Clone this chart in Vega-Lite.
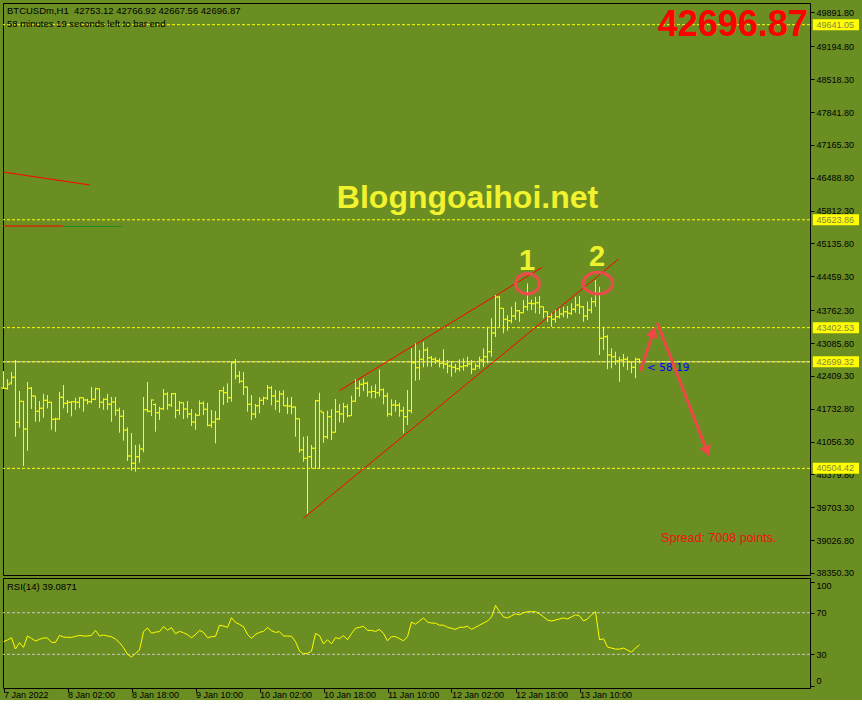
{
"$schema":"https://vega.github.io/schema/vega-lite/v6.json",
"background":"#6B8E23",
"padding":{"left":0,"top":2,"right":2,"bottom":0},
"spacing":3,
"bounds":"flush",
"config":{"view":{"stroke":"#000000","strokeWidth":1},"axis":{"labelFont":"Liberation Sans","labelFontSize":9,"labelColor":"#000000","tickColor":"#000000","tickSize":4,"domain":false,"grid":false},"text":{"font":"Liberation Sans"}},
"datasets":{
"bars":[
{"i":0,"o":42159,"h":42509,"l":42139,"c":42153},{"i":1,"o":42150,"h":42344,"l":42124,"c":42235},{"i":2,"o":42260,"h":42489,"l":42230,"c":42379},{"i":3,"o":42379,"h":42736,"l":41156,"c":41453},{"i":4,"o":41453,"h":42097,"l":41342,"c":41885},{"i":5,"o":41885,"h":41895,"l":40553,"c":41315},{"i":6,"o":41315,"h":42283,"l":40868,"c":42153},{"i":7,"o":42153,"h":42180,"l":41727,"c":41994},{"i":8,"o":41994,"h":42000,"l":41465,"c":41679},{"i":9,"o":41679,"h":41891,"l":41465,"c":41741},
{"i":10,"o":41741,"h":42042,"l":41548,"c":41906},{"i":11,"o":41906,"h":42015,"l":41741,"c":41865},{"i":12,"o":41865,"h":41877,"l":41300,"c":41515},{"i":13,"o":41515,"h":41548,"l":41259,"c":41520},{"i":14,"o":41520,"h":42077,"l":41505,"c":41968},{"i":15,"o":41968,"h":42221,"l":41741,"c":41844},{"i":16,"o":41844,"h":41912,"l":41644,"c":41865},{"i":17,"o":41865,"h":41891,"l":41576,"c":41877},{"i":18,"o":41877,"h":41959,"l":41706,"c":41865},{"i":19,"o":41865,"h":41974,"l":41741,"c":41959},
{"i":20,"o":41959,"h":41968,"l":41671,"c":41912},{"i":21,"o":41912,"h":41939,"l":41823,"c":41877},{"i":22,"o":41877,"h":42180,"l":41844,"c":41926},{"i":23,"o":41926,"h":42165,"l":41910,"c":42145},{"i":24,"o":42145,"h":42153,"l":41747,"c":41865},{"i":25,"o":41865,"h":41947,"l":41712,"c":41926},{"i":26,"o":41926,"h":42036,"l":41712,"c":41823},{"i":27,"o":41823,"h":41974,"l":41465,"c":41871},{"i":28,"o":41871,"h":41974,"l":41589,"c":41700},{"i":29,"o":41700,"h":41753,"l":41239,"c":41576},
{"i":30,"o":41576,"h":41706,"l":41074,"c":41294},{"i":31,"o":41294,"h":41350,"l":40656,"c":40759},{"i":32,"o":40759,"h":41232,"l":40456,"c":40609},{"i":33,"o":40609,"h":40985,"l":40436,"c":40745},{"i":34,"o":40745,"h":41000,"l":40621,"c":40903},{"i":35,"o":40903,"h":41974,"l":40835,"c":41712},{"i":36,"o":41712,"h":42283,"l":41659,"c":41679},{"i":37,"o":41679,"h":41926,"l":41583,"c":41912},{"i":38,"o":41820,"h":41840,"l":41259,"c":41651},{"i":39,"o":41651,"h":41774,"l":41500,"c":41733},
{"i":40,"o":41733,"h":42138,"l":41706,"c":42036},{"i":41,"o":42036,"h":42071,"l":41712,"c":41809},{"i":42,"o":41809,"h":42056,"l":41768,"c":42042},{"i":43,"o":42042,"h":42056,"l":41535,"c":41700},{"i":44,"o":41700,"h":41891,"l":41603,"c":41856},{"i":45,"o":41856,"h":41865,"l":41521,"c":41727},{"i":46,"o":41727,"h":41891,"l":41535,"c":41624},{"i":47,"o":41624,"h":41727,"l":41377,"c":41459},{"i":48,"o":41459,"h":41644,"l":41300,"c":41597},{"i":49,"o":41597,"h":41906,"l":41590,"c":41844},
{"i":50,"o":41844,"h":41885,"l":41603,"c":41721},{"i":51,"o":41721,"h":41856,"l":41370,"c":41391},{"i":52,"o":41391,"h":41706,"l":41342,"c":41459},{"i":53,"o":41459,"h":41686,"l":41020,"c":41521},{"i":54,"o":41521,"h":42118,"l":41500,"c":42103},{"i":55,"o":42103,"h":42186,"l":41809,"c":42062},{"i":56,"o":42062,"h":42256,"l":41856,"c":41959},{"i":57,"o":41959,"h":42701,"l":41877,"c":42680},{"i":58,"o":42680,"h":42756,"l":42338,"c":42406},{"i":59,"o":42406,"h":42509,"l":42256,"c":42297},
{"i":60,"o":42297,"h":42489,"l":42015,"c":42180},{"i":61,"o":42180,"h":42190,"l":41671,"c":41823},{"i":62,"o":41823,"h":42015,"l":41500,"c":41624},{"i":63,"o":41624,"h":41830,"l":41541,"c":41795},{"i":64,"o":41795,"h":41968,"l":41638,"c":41906},{"i":65,"o":41906,"h":41980,"l":41809,"c":41953},{"i":66,"o":41953,"h":42221,"l":41912,"c":42165},{"i":67,"o":42165,"h":42200,"l":41803,"c":41994},{"i":68,"o":41994,"h":42118,"l":41706,"c":41885},{"i":69,"o":41885,"h":42103,"l":41651,"c":42036},
{"i":70,"o":42036,"h":42112,"l":41788,"c":41795},{"i":71,"o":41795,"h":41968,"l":41624,"c":41788},{"i":72,"o":41788,"h":41974,"l":41618,"c":41768},{"i":73,"o":41768,"h":41780,"l":41156,"c":41527},{"i":74,"o":41527,"h":41535,"l":40827,"c":40882},{"i":75,"o":40882,"h":41156,"l":40642,"c":40712},{"i":76,"o":40712,"h":41171,"l":39565,"c":40745},{"i":77,"o":40745,"h":40985,"l":40506,"c":40917},{"i":78,"o":40917,"h":41912,"l":40491,"c":41898},{"i":79,"o":41898,"h":42062,"l":40491,"c":41686},
{"i":80,"o":41660,"h":41671,"l":41033,"c":41156},{"i":81,"o":41156,"h":41692,"l":41109,"c":41568},{"i":82,"o":41568,"h":41727,"l":41088,"c":41247},{"i":83,"o":41247,"h":41933,"l":41240,"c":41671},{"i":84,"o":41671,"h":41830,"l":41453,"c":41624},{"i":85,"o":41624,"h":41856,"l":41445,"c":41774},{"i":86,"o":41774,"h":41823,"l":41556,"c":41589},{"i":87,"o":41589,"h":42001,"l":41580,"c":41885},{"i":88,"o":41885,"h":42344,"l":41875,"c":42153},{"i":89,"o":42153,"h":42309,"l":41980,"c":42235},
{"i":90,"o":42235,"h":42351,"l":42097,"c":42256},{"i":91,"o":42256,"h":42289,"l":41980,"c":42077},{"i":92,"o":42077,"h":42206,"l":41947,"c":42085},{"i":93,"o":42085,"h":42235,"l":41947,"c":42062},{"i":94,"o":42062,"h":42544,"l":41980,"c":42124},{"i":95,"o":42124,"h":42153,"l":41823,"c":41994},{"i":96,"o":41994,"h":42062,"l":41568,"c":41624},{"i":97,"o":41624,"h":41926,"l":41583,"c":41809},{"i":98,"o":41809,"h":41912,"l":41671,"c":41803},{"i":99,"o":41803,"h":41856,"l":41568,"c":41692},
{"i":100,"o":41692,"h":41774,"l":41226,"c":41568},{"i":101,"o":41568,"h":42118,"l":41397,"c":41692},{"i":102,"o":41692,"h":42977,"l":41638,"c":42680},{"i":103,"o":42680,"h":43080,"l":42309,"c":42577},{"i":104,"o":42577,"h":42942,"l":42324,"c":42750},{"i":105,"o":42750,"h":43106,"l":42585,"c":42942},{"i":106,"o":42942,"h":42997,"l":42598,"c":42783},{"i":107,"o":42783,"h":42818,"l":42598,"c":42750},{"i":108,"o":42750,"h":42791,"l":42653,"c":42721},{"i":109,"o":42721,"h":42771,"l":42585,"c":42668},
{"i":110,"o":42668,"h":42956,"l":42556,"c":42653},{"i":111,"o":42653,"h":42736,"l":42462,"c":42612},{"i":112,"o":42612,"h":42715,"l":42392,"c":42585},{"i":113,"o":42585,"h":42653,"l":42474,"c":42556},{"i":114,"o":42556,"h":42750,"l":42503,"c":42598},{"i":115,"o":42598,"h":42771,"l":42515,"c":42618},{"i":116,"o":42618,"h":42804,"l":42590,"c":42653},{"i":117,"o":42653,"h":42736,"l":42447,"c":42544},{"i":118,"o":42544,"h":42668,"l":42530,"c":42612},{"i":119,"o":42612,"h":42804,"l":42556,"c":42736},
{"i":120,"o":42736,"h":42977,"l":42598,"c":42804},{"i":121,"o":42804,"h":43421,"l":42668,"c":42907},{"i":122,"o":42907,"h":43594,"l":42804,"c":43292},{"i":123,"o":43292,"h":44074,"l":43209,"c":44033},{"i":124,"o":44033,"h":44053,"l":43409,"c":43800},{"i":125,"o":43800,"h":43806,"l":43286,"c":43574},{"i":126,"o":43574,"h":43662,"l":43339,"c":43545},{"i":127,"o":43545,"h":43833,"l":43491,"c":43642},{"i":128,"o":43642,"h":43936,"l":43559,"c":43751},{"i":129,"o":43751,"h":43765,"l":43524,"c":43710},
{"i":130,"o":43710,"h":43971,"l":43697,"c":43833},{"i":131,"o":43833,"h":44315,"l":43751,"c":43903},{"i":132,"o":43903,"h":43985,"l":43765,"c":43895},{"i":133,"o":43895,"h":44039,"l":43697,"c":43915},{"i":134,"o":43915,"h":44053,"l":43683,"c":43833},{"i":135,"o":43833,"h":43840,"l":43594,"c":43730},{"i":136,"o":43730,"h":43740,"l":43518,"c":43627},{"i":137,"o":43627,"h":43697,"l":43421,"c":43574},{"i":138,"o":43574,"h":43765,"l":43504,"c":43627},{"i":139,"o":43627,"h":43800,"l":43594,"c":43683},
{"i":140,"o":43683,"h":43833,"l":43615,"c":43730},{"i":141,"o":43730,"h":43847,"l":43594,"c":43697},{"i":142,"o":43697,"h":43903,"l":43662,"c":43780},{"i":143,"o":43780,"h":44039,"l":43710,"c":43868},{"i":144,"o":43868,"h":44053,"l":43683,"c":43833},{"i":145,"o":43833,"h":43845,"l":43524,"c":43642},{"i":146,"o":43642,"h":43936,"l":43559,"c":43765},{"i":147,"o":43765,"h":44026,"l":43697,"c":43936},{"i":148,"o":43936,"h":44383,"l":43833,"c":44109},{"i":149,"o":44109,"h":44245,"l":42839,"c":43182},
{"i":150,"o":43182,"h":43421,"l":42942,"c":43215},{"i":151,"o":43215,"h":43250,"l":42544,"c":42839},{"i":152,"o":42839,"h":42977,"l":42565,"c":42804},{"i":153,"o":42804,"h":42907,"l":42633,"c":42715},{"i":154,"o":42715,"h":42804,"l":42289,"c":42736},{"i":155,"o":42736,"h":42859,"l":42598,"c":42750},{"i":156,"o":42750,"h":42804,"l":42530,"c":42701},{"i":157,"o":42701,"h":42710,"l":42462,"c":42585},{"i":158,"o":42585,"h":42783,"l":42359,"c":42753},{"i":159,"o":42753.12,"h":42766.92,"l":42667.56,"c":42696.87}
],
"rsi":[
{"i":0,"v":42.2},{"i":1,"v":43.8},{"i":2,"v":46.0},{"i":3,"v":35.1},{"i":4,"v":41.2},{"i":5,"v":36.7},{"i":6,"v":47.6},{"i":7,"v":45.3},{"i":8,"v":42.8},{"i":9,"v":44.4},
{"i":10,"v":45.7},{"i":11,"v":45.7},{"i":12,"v":41.5},{"i":13,"v":41.5},{"i":14,"v":48.2},{"i":15,"v":46.6},{"i":16,"v":46.3},{"i":17,"v":46.3},{"i":18,"v":47.3},{"i":19,"v":48.2},
{"i":20,"v":47.6},{"i":21,"v":47.6},{"i":22,"v":48.2},{"i":23,"v":53.0},{"i":24,"v":47.6},{"i":25,"v":48.6},{"i":26,"v":47.6},{"i":27,"v":46.9},{"i":28,"v":44.7},{"i":29,"v":41.2},
{"i":30,"v":36.4},{"i":31,"v":30.0},{"i":32,"v":27.4},{"i":33,"v":30.9},{"i":34,"v":34.1},{"i":35,"v":51.8},{"i":36,"v":55.3},{"i":37,"v":50.2},{"i":38,"v":51.4},{"i":39,"v":51.8},
{"i":40,"v":56.6},{"i":41,"v":53.4},{"i":42,"v":55.6},{"i":43,"v":49.8},{"i":44,"v":52.1},{"i":45,"v":50.8},{"i":46,"v":48.9},{"i":47,"v":46.0},{"i":48,"v":48.9},{"i":49,"v":53.0},
{"i":50,"v":51.1},{"i":51,"v":46.0},{"i":52,"v":46.9},{"i":53,"v":47.3},{"i":54,"v":57.9},{"i":55,"v":57.2},{"i":56,"v":55.9},{"i":57,"v":65.2},{"i":58,"v":60.7},{"i":59,"v":58.8},
{"i":60,"v":56.6},{"i":61,"v":49.2},{"i":62,"v":45.3},{"i":63,"v":49.2},{"i":64,"v":51.1},{"i":65,"v":52.1},{"i":66,"v":55.9},{"i":67,"v":52.7},{"i":68,"v":51.1},{"i":69,"v":51.8},
{"i":70,"v":47.6},{"i":71,"v":47.6},{"i":72,"v":47.3},{"i":73,"v":42.2},{"i":74,"v":33.2},{"i":75,"v":30.5},{"i":76,"v":31},{"i":77,"v":33},{"i":78,"v":50},{"i":79,"v":48},
{"i":80,"v":40},{"i":81,"v":44},{"i":82,"v":40},{"i":83,"v":46},{"i":84,"v":45},{"i":85,"v":48},{"i":86,"v":44},{"i":87,"v":50},{"i":88,"v":55},{"i":89,"v":56},
{"i":90,"v":57},{"i":91,"v":53},{"i":92,"v":53},{"i":93,"v":52},{"i":94,"v":54},{"i":95,"v":50},{"i":96,"v":43},{"i":97,"v":47},{"i":98,"v":47},{"i":99,"v":45},
{"i":100,"v":43},{"i":101,"v":47},{"i":102,"v":61},{"i":103,"v":59},{"i":104,"v":62},{"i":105,"v":65},{"i":106,"v":61},{"i":107,"v":60},{"i":108,"v":60},{"i":109,"v":58},
{"i":110,"v":58},{"i":111,"v":56},{"i":112,"v":55},{"i":113,"v":54},{"i":114,"v":56},{"i":115,"v":56},{"i":116,"v":57},{"i":117,"v":54},{"i":118,"v":56},{"i":119,"v":58},
{"i":120,"v":60},{"i":121,"v":62},{"i":122,"v":66},{"i":123,"v":77},{"i":124,"v":71},{"i":125,"v":66},{"i":126,"v":65},{"i":127,"v":67},{"i":128,"v":69},{"i":129,"v":68},
{"i":130,"v":70},{"i":131,"v":71},{"i":132,"v":71},{"i":133,"v":71},{"i":134,"v":69},{"i":135,"v":66},{"i":136,"v":63},{"i":137,"v":62},{"i":138,"v":63},{"i":139,"v":64},
{"i":140,"v":65},{"i":141,"v":64},{"i":142,"v":66},{"i":143,"v":68},{"i":144,"v":67},{"i":145,"v":62},{"i":146,"v":64},{"i":147,"v":68},{"i":148,"v":71},{"i":149,"v":44},
{"i":150,"v":45},{"i":151,"v":37},{"i":152,"v":36},{"i":153,"v":35},{"i":154,"v":35},{"i":155,"v":36},{"i":156,"v":34},{"i":157,"v":32},{"i":158,"v":36},{"i":159,"v":39.0871}
],
"levels":[{"p":49641.05},{"p":45623.86},{"p":43402.53},{"p":42699.32},{"p":40504.42}]
},
"vconcat":[
{
"width":807,"height":572,
"layer":[
{"data":{"values":[{"p":42699.32}]},"mark":{"type":"rule","color":"#C8C8C8","strokeWidth":1},
 "encoding":{"y":{"field":"p","type":"quantitative","scale":{"domain":[38308.8,50087.4],"nice":false,"zero":false},
  "axis":{"orient":"right","title":null,"values":[49891.8,49194.8,48518.3,47841.8,47165.3,46488.8,45812.3,45135.8,44459.3,43762.3,43085.8,42409.3,41732.8,41056.3,40379.8,39703.3,39026.8,38350.3],"tickCount":100,"format":".2f","labelPadding":2,"labelOverlap":false,"labelBound":false,"labelFlush":false}}}},
{"data":{"name":"levels"},"mark":{"type":"rule","color":"#FFFF00","strokeWidth":1,"strokeDash":[3,2]},
 "encoding":{"y":{"field":"p","type":"quantitative","scale":{"domain":[38308.8,50087.4],"nice":false,"zero":false}}}},
{"data":{"values":[{"xa":-0.125,"ya":46607,"xb":21.6,"yb":46340},{"xa":-0.125,"ya":45495,"xb":14.9,"yb":45495},{"xa":83.95,"ya":42104,"xb":134.7,"yb":44645},{"xa":74.95,"ya":39476,"xb":153.7,"yb":44810}]},
 "mark":{"type":"rule","color":"#FF0000","strokeWidth":1},
 "encoding":{"x":{"field":"xa","type":"quantitative","scale":{"domain":[-0.125,201.625],"nice":false,"zero":false},"axis":null},"y":{"field":"ya","type":"quantitative","scale":{"domain":[38308.8,50087.4],"nice":false,"zero":false}},"x2":{"field":"xb"},"y2":{"field":"yb"}}},
{"data":{"values":[{"xa":14.9,"ya":45485,"xb":29.6,"yb":45485}]},
 "mark":{"type":"rule","color":"#228B22","strokeWidth":1},
 "encoding":{"x":{"field":"xa","type":"quantitative","scale":{"domain":[-0.125,201.625],"nice":false,"zero":false},"axis":null},"y":{"field":"ya","type":"quantitative","scale":{"domain":[38308.8,50087.4],"nice":false,"zero":false}},"x2":{"field":"xb"},"y2":{"field":"yb"}}},
{"data":{"name":"bars"},"mark":{"type":"rule","color":"#FFFF00","strokeWidth":1},
 "encoding":{"x":{"field":"i","type":"quantitative","scale":{"domain":[-0.125,201.625],"nice":false,"zero":false},"axis":null},"y":{"field":"l","type":"quantitative","scale":{"domain":[38308.8,50087.4],"nice":false,"zero":false}},"y2":{"field":"h"}}},
{"data":{"name":"bars"},"mark":{"type":"tick","orient":"horizontal","size":2,"thickness":1,"xOffset":-1.5,"color":"#FFFF00","opacity":1},
 "encoding":{"x":{"field":"i","type":"quantitative","scale":{"domain":[-0.125,201.625],"nice":false,"zero":false},"axis":null},"y":{"field":"o","type":"quantitative","scale":{"domain":[38308.8,50087.4],"nice":false,"zero":false}}}},
{"data":{"name":"bars"},"mark":{"type":"tick","orient":"horizontal","size":2,"thickness":1,"xOffset":1.5,"color":"#FFFF00","opacity":1},
 "encoding":{"x":{"field":"i","type":"quantitative","scale":{"domain":[-0.125,201.625],"nice":false,"zero":false},"axis":null},"y":{"field":"c","type":"quantitative","scale":{"domain":[38308.8,50087.4],"nice":false,"zero":false}}}},
{"data":{"values":[{"x":131,"y":44307}]},"mark":{"type":"point","shape":"M-1.15,0A1.15,1,0,1,0,1.15,0A1.15,1,0,1,0,-1.15,0Z","size":424,"filled":false,"color":"#EE4B4B","strokeWidth":3,"opacity":1},
 "encoding":{"x":{"field":"x","type":"quantitative","scale":{"domain":[-0.125,201.625],"nice":false,"zero":false},"axis":null},"y":{"field":"y","type":"quantitative","scale":{"domain":[38308.8,50087.4],"nice":false,"zero":false}}}},
{"data":{"values":[{"x":148.6,"y":44318}]},"mark":{"type":"point","shape":"M-1.36,0A1.36,1,0,1,0,1.36,0A1.36,1,0,1,0,-1.36,0Z","size":467,"filled":false,"color":"#EE4B4B","strokeWidth":3,"opacity":1},
 "encoding":{"x":{"field":"x","type":"quantitative","scale":{"domain":[-0.125,201.625],"nice":false,"zero":false},"axis":null},"y":{"field":"y","type":"quantitative","scale":{"domain":[38308.8,50087.4],"nice":false,"zero":false}}}},
{"data":{"values":[{"x":130.9,"y":44775,"t":"1"},{"x":148.4,"y":44857,"t":"2"}]},"mark":{"type":"text","align":"center","baseline":"middle","font":"Liberation Sans","fontWeight":"bold","fontSize":29,"color":"#EEF22E"},
 "encoding":{"x":{"field":"x","type":"quantitative","scale":{"domain":[-0.125,201.625],"nice":false,"zero":false},"axis":null},"y":{"field":"y","type":"quantitative","scale":{"domain":[38308.8,50087.4],"nice":false,"zero":false}},"text":{"field":"t","type":"nominal"}}},
{"data":{"values":[{"x":116,"y":46072,"t":"Blogngoaihoi.net"}]},"mark":{"type":"text","align":"center","baseline":"middle","font":"Liberation Sans","fontWeight":"bold","fontSize":32,"color":"#F2F22E"},
 "encoding":{"x":{"field":"x","type":"quantitative","scale":{"domain":[-0.125,201.625],"nice":false,"zero":false},"axis":null},"y":{"field":"y","type":"quantitative","scale":{"domain":[38308.8,50087.4],"nice":false,"zero":false}},"text":{"field":"t","type":"nominal"}}},
{"data":{"values":[{"x":201.1,"y":49634,"t":"42696.87"}]},"mark":{"type":"text","align":"right","baseline":"middle","font":"Liberation Sans","fontWeight":"bold","fontSize":36,"color":"#FF0000"},
 "encoding":{"x":{"field":"x","type":"quantitative","scale":{"domain":[-0.125,201.625],"nice":false,"zero":false},"axis":null},"y":{"field":"y","type":"quantitative","scale":{"domain":[38308.8,50087.4],"nice":false,"zero":false}},"text":{"field":"t","type":"nominal"}}},
{"data":{"values":[{"x":0.875,"y":49923,"t":"BTCUSDm,H1\u00a0 42753.12 42766.92 42667.56 42696.87"},{"x":0.875,"y":49655,"t":"58 minutes 19 seconds left to bar end"}]},"mark":{"type":"text","align":"left","baseline":"middle","font":"Liberation Sans","fontSize":9.5,"color":"#000000"},
 "encoding":{"x":{"field":"x","type":"quantitative","scale":{"domain":[-0.125,201.625],"nice":false,"zero":false},"axis":null},"y":{"field":"y","type":"quantitative","scale":{"domain":[38308.8,50087.4],"nice":false,"zero":false}},"text":{"field":"t","type":"nominal"}}},
{"data":{"values":[{"x":160.9,"y":42571,"t":"< 58:19"}]},"mark":{"type":"text","align":"left","baseline":"middle","font":"DejaVu Sans","fontSize":10.5,"color":"#0000FF"},
 "encoding":{"x":{"field":"x","type":"quantitative","scale":{"domain":[-0.125,201.625],"nice":false,"zero":false},"axis":null},"y":{"field":"y","type":"quantitative","scale":{"domain":[38308.8,50087.4],"nice":false,"zero":false}},"text":{"field":"t","type":"nominal"}}},
{"data":{"values":[{"xa":159.3,"ya":42530,"xb":162.47,"yb":43315},{"xa":163.55,"ya":43477,"xb":175.9,"yb":40858}]},
 "mark":{"type":"rule","color":"#F04646","strokeWidth":3,"strokeCap":"round"},
 "encoding":{"x":{"field":"xa","type":"quantitative","scale":{"domain":[-0.125,201.625],"nice":false,"zero":false},"axis":null},"y":{"field":"ya","type":"quantitative","scale":{"domain":[38308.8,50087.4],"nice":false,"zero":false}},"x2":{"field":"xb"},"y2":{"field":"yb"}}},
{"data":{"values":[{"x":162.47,"y":43315}]},"mark":{"type":"point","shape":"triangle-up","size":144,"angle":18.4,"filled":true,"color":"#F04646","opacity":1},
 "encoding":{"x":{"field":"x","type":"quantitative","scale":{"domain":[-0.125,201.625],"nice":false,"zero":false},"axis":null},"y":{"field":"y","type":"quantitative","scale":{"domain":[38308.8,50087.4],"nice":false,"zero":false}}}},
{"data":{"values":[{"x":175.9,"y":40858}]},"mark":{"type":"point","shape":"triangle-up","size":144,"angle":158.8,"filled":true,"color":"#F04646","opacity":1},
 "encoding":{"x":{"field":"x","type":"quantitative","scale":{"domain":[-0.125,201.625],"nice":false,"zero":false},"axis":null},"y":{"field":"y","type":"quantitative","scale":{"domain":[38308.8,50087.4],"nice":false,"zero":false}}}},
{"data":{"values":[{"x":164.4,"y":39071,"t":"Spread: 7008 points."}]},"mark":{"type":"text","align":"left","baseline":"middle","font":"Liberation Sans","fontSize":12.5,"color":"#F01010"},
 "encoding":{"x":{"field":"x","type":"quantitative","scale":{"domain":[-0.125,201.625],"nice":false,"zero":false},"axis":null},"y":{"field":"y","type":"quantitative","scale":{"domain":[38308.8,50087.4],"nice":false,"zero":false}},"text":{"field":"t","type":"nominal"}}},
{"data":{"name":"levels"},"mark":{"type":"point","shape":"M-2.1,-0.5L2.1,-0.5L2.1,0.5L-2.1,0.5Z","size":484,"filled":true,"color":"#FFFF00","opacity":1,"strokeWidth":0},
 "encoding":{"x":{"datum":208.1,"type":"quantitative","scale":{"domain":[-0.125,201.625],"nice":false,"zero":false},"axis":null},"y":{"field":"p","type":"quantitative","scale":{"domain":[38308.8,50087.4],"nice":false,"zero":false}}}},
{"data":{"name":"levels"},"mark":{"type":"text","align":"left","baseline":"middle","font":"Liberation Sans","fontSize":9,"color":"#84844A"},
 "encoding":{"x":{"datum":203.25,"type":"quantitative","scale":{"domain":[-0.125,201.625],"nice":false,"zero":false},"axis":null},"y":{"field":"p","type":"quantitative","scale":{"domain":[38308.8,50087.4],"nice":false,"zero":false}},"text":{"field":"p","type":"quantitative","format":".2f"}}}
]
},
{
"width":807,"height":110,
"layer":[
{"data":{"values":[{"v":70},{"v":30}]},"mark":{"type":"rule","color":"#C8C8C8","strokeWidth":1,"strokeDash":[3,2]},
 "encoding":{"y":{"field":"v","type":"quantitative","scale":{"domain":[-2.4,103.4],"nice":false,"zero":false},
  "axis":{"orient":"right","title":null,"values":[0,30,70,100],"tickCount":100,"labelFlush":5,"labelPadding":2,"labelOverlap":false,"labelBound":false}}}},
{"data":{"name":"rsi"},"mark":{"type":"line","color":"#FFFF00","strokeWidth":1},
 "encoding":{"x":{"field":"i","type":"quantitative","scale":{"domain":[-0.125,201.625],"nice":false,"zero":false},
  "axis":{"orient":"bottom","title":null,"values":[0,16,32,48,64,80,96,112,128,144],"tickCount":100,"labelExpr":"['7 Jan 2022','8 Jan 02:00','8 Jan 18:00','9 Jan 10:00','10 Jan 02:00','10 Jan 18:00','11 Jan 10:00','12 Jan 02:00','12 Jan 18:00','13 Jan 10:00'][round(datum.value/16)]","labelAlign":"left","labelBaseline":"top","labelPadding":-2,"labelFlush":false,"labelOverlap":false,"labelBound":false}},
  "y":{"field":"v","type":"quantitative","scale":{"domain":[-2.4,103.4],"nice":false,"zero":false}}}},
{"data":{"values":[{"x":0.875,"y":94.7,"t":"RSI(14) 39.0871"}]},"mark":{"type":"text","align":"left","baseline":"middle","font":"Liberation Sans","fontSize":9.5,"color":"#000000"},
 "encoding":{"x":{"field":"x","type":"quantitative","scale":{"domain":[-0.125,201.625],"nice":false,"zero":false}},"y":{"field":"y","type":"quantitative","scale":{"domain":[-2.4,103.4],"nice":false,"zero":false}},"text":{"field":"t","type":"nominal"}}}
]
}
],
"resolve":{"scale":{"x":"independent","y":"independent"}}
}
